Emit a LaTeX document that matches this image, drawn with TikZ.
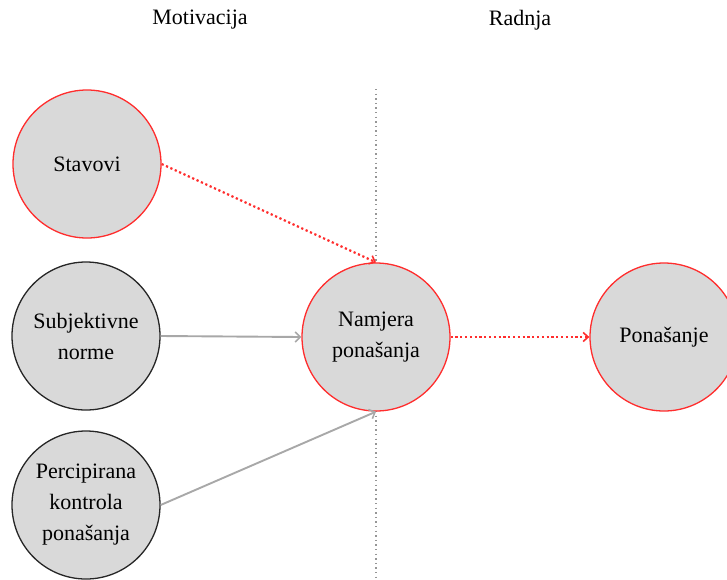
\documentclass[tikz,border=0pt]{standalone}
\usepackage{fontspec}
\setmainfont{Liberation Serif}
\usetikzlibrary{arrows.meta}
\definecolor{fillgray}{RGB}{217,217,217}
\definecolor{linered}{RGB}{255,45,45}
\definecolor{linegray}{RGB}{168,168,168}
\definecolor{dotgray}{RGB}{150,150,150}
\begin{document}
\begin{tikzpicture}[x=1pt,y=-1pt,
  circ/.style={circle, minimum size=148pt, inner sep=0pt, fill=fillgray, line width=1.3pt, align=center, font=\fontsize{22}{31}\selectfont},
  redcirc/.style={circ, draw=linered},
  blackcirc/.style={circ, draw=black!85},
  title/.style={font=\fontsize{22}{26}\selectfont},
  redarrow/.style={draw=linered, line width=2.2pt, dash pattern=on 2.2pt off 2.6pt, -{Straight Barb[length=5pt,width=9pt,line width=1.6pt]}},
  grayarrow/.style={draw=linegray, line width=1.9pt, -{Straight Barb[length=5pt,width=10pt,line width=1.6pt]}},
  divider/.style={draw=dotgray, line width=1.4pt, dash pattern=on 1.4pt off 3.2pt}
]
\useasboundingbox (0,0) rectangle (727,579);
\clip (0,0) rectangle (727,579);
\node[title] (tmot) at (200,20) {Motivacija};
\node[title] (trad) at (520,20) {Radnja};
\coordinate (dtop) at (376,89);
\coordinate (dbot) at (376,579);
\draw[divider] (dtop) -- (dbot);
\node[redcirc] (st) at (87,164) {Stavovi};
\node[blackcirc] (sn) at (86,336) {Subjektivne\\norme};
\node[blackcirc] (pk) at (86,505) {Percipirana\\kontrola\\ponašanja};
\node[redcirc] (nam) at (376,337) {Namjera\\ponašanja};
\node[redcirc] (pon) at (664,337) {Ponašanje};
\draw[redarrow] (st.east) -- (nam.north);
\draw[grayarrow] (sn.east) -- (nam.west);
\draw[grayarrow] (pk.east) -- (nam.south);
\draw[redarrow] (nam.east) -- (pon.west);
\end{tikzpicture}
\end{document}
